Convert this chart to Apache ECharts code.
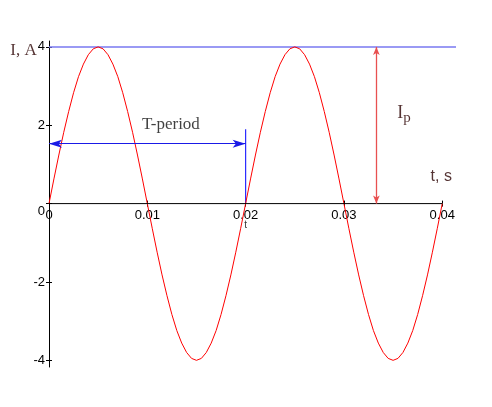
<!DOCTYPE html>
<html><head><meta charset="utf-8">
<script src="https://cdn.jsdelivr.net/npm/echarts@6/dist/echarts.min.js"></script>
<style>html,body{margin:0;padding:0;background:#fff}#c{width:492px;height:407px}</style>
</head><body><div id="c"></div>
<script>
// time samples (s)
var times = [0,0.0005,0.001,0.0015,0.002,0.0025,0.003,0.0035,0.004,0.0045,
0.005,0.0055,0.006,0.0065,0.007,0.0075,0.008,0.0085,0.009,0.0095,
0.01,0.0105,0.011,0.0115,0.012,0.0125,0.013,0.0135,0.014,0.0145,
0.015,0.0155,0.016,0.0165,0.017,0.0175,0.018,0.0185,0.019,0.0195,
0.02,0.0205,0.021,0.0215,0.022,0.0225,0.023,0.0235,0.024,0.0245,
0.025,0.0255,0.026,0.0265,0.027,0.0275,0.028,0.0285,0.029,0.0295,
0.03,0.0305,0.031,0.0315,0.032,0.0325,0.033,0.0335,0.034,0.0345,
0.035,0.0355,0.036,0.0365,0.037,0.0375,0.038,0.0385,0.039,0.0395,0.04];
// current (A)
var current = [0,0.63,1.24,1.82,2.35,2.83,3.24,3.56,3.80,3.95,
4.00,3.95,3.80,3.56,3.24,2.83,2.35,1.82,1.24,0.63,
0,-0.63,-1.24,-1.82,-2.35,-2.83,-3.24,-3.56,-3.80,-3.95,
-4.00,-3.95,-3.80,-3.56,-3.24,-2.83,-2.35,-1.82,-1.24,-0.63,
0,0.63,1.24,1.82,2.35,2.83,3.24,3.56,3.80,3.95,
4.00,3.95,3.80,3.56,3.24,2.83,2.35,1.82,1.24,0.63,
0,-0.63,-1.24,-1.82,-2.35,-2.83,-3.24,-3.56,-3.80,-3.95,
-4.00,-3.95,-3.80,-3.56,-3.24,-2.83,-2.35,-1.82,-1.24,-0.63,0];
var yTicks = [-4,-2,0,2,4];
var xTicks = [0,0.01,0.02,0.03,0.04];
// annotation values
var peakLevel = 4;          // Ip horizontal line
var peakLineEnd = 0.0414;
var periodY = 1.53;         // T-period arrow height
var periodStart = 0, periodEnd = 0.02;
var markerTop = 1.9;        // vertical marker at t = 0.02
var ipX = 0.0333;
var xAxisEnd = 0.04;

var pts = times.map(function(t,i){return [t,current[i]];});
var chart = echarts.init(document.getElementById('c'));
var sans = 'Liberation Sans, Arial, sans-serif';
var serif = 'Liberation Serif, Times New Roman, serif';
var yBase = {type:'value', min:-4.17, max:4.15, position:'left', splitLine:{show:false}};
var xBase = {type:'value', min:0, max:peakLineEnd, position:'bottom', splitLine:{show:false}, offset:0};
var option = {
  animation:false,
  grid:{left:49, right:36, top:41, bottom:40},
  xAxis:[
    Object.assign({}, xBase, {
      axisLine:{show:false, onZero:false},
      axisTick:{inside:false, length:3, lineStyle:{color:'#000'}, customValues:xTicks},
      axisLabel:{margin:5, color:'#000', fontFamily:sans, fontSize:13, customValues:xTicks,
        formatter:function(v){return String(v);}}
    }),
    Object.assign({}, xBase, {
      axisLine:{show:false, onZero:false},
      axisTick:{inside:true, length:3, lineStyle:{color:'#000'}, customValues:xTicks},
      axisLabel:{show:false}
    })
  ],
  yAxis:[
    Object.assign({}, yBase, {
      axisLine:{show:true, onZero:false, lineStyle:{color:'#000', width:1}},
      axisTick:{show:true, inside:false, length:3, lineStyle:{color:'#000'}, customValues:yTicks},
      axisLabel:{margin:4, color:'#000', fontFamily:sans, fontSize:13, customValues:yTicks,
        formatter:function(v){return v===0 ? '{z|0}' : String(v);},
        rich:{z:{fontFamily:sans, fontSize:13, color:'#000', padding:[16,0,0,0]}}}
    }),
    Object.assign({}, yBase, {
      axisLine:{show:false, onZero:false},
      axisTick:{show:true, inside:true, length:3, lineStyle:{color:'#000'}, customValues:yTicks},
      axisLabel:{show:false}
    })
  ],
  series:[
    {type:'line', data:pts, showSymbol:false, symbol:'none', smooth:false,
     lineStyle:{color:'#ff0000', width:1}, z:3},
    {type:'line', data:[[0,0],[xAxisEnd,0]], showSymbol:false, symbol:'none',
     lineStyle:{color:'#000', width:1}, z:4},
    {type:'line', data:[[0,peakLevel],[peakLineEnd,peakLevel]], showSymbol:false, symbol:'none', clip:false,
     lineStyle:{color:'#7878f0', width:1.5}, z:2},
    {type:'line', data:[[periodEnd,0],[periodEnd,markerTop]], showSymbol:false, symbol:'none',
     lineStyle:{color:'#2a2aff', width:1.2}, z:2},
    {type:'line', data:[], symbol:'none',
     markLine:{silent:true, animation:false, label:{show:false},
       data:[
         [{coord:[periodStart,periodY], symbol:'arrow', symbolSize:[6,13], lineStyle:{color:'#1a1ae6', width:1.2, type:'solid'}},
          {coord:[periodEnd,periodY], symbol:'arrow', symbolSize:[6,13]}],
         [{coord:[ipX,peakLevel], symbol:'arrow', symbolSize:[5,8], lineStyle:{color:'#e85050', width:1.3, type:'solid'}},
          {coord:[ipX,0], symbol:'arrow', symbolSize:[5,8]}]
       ]}},
    {type:'scatter', symbolSize:0, clip:false, silent:true,
     data:[
       {value:[0.0124,2.02], label:{show:true, position:'inside', formatter:'T-period', fontFamily:serif, fontSize:17, color:'#111'}},
       {value:[-0.0026,3.9], label:{show:true, position:'inside', formatter:'I, A', fontFamily:serif, fontSize:17, color:'#2a0000'}},
       {value:[0.0361,2.3], label:{show:true, position:'inside', formatter:'{a|I}{b|p}',
          rich:{a:{fontFamily:serif, fontSize:18, color:'#2a0000'}, b:{fontFamily:serif, fontSize:15, color:'#2a0000', padding:[10,0,0,0]}}}},
       {value:[0.0399,0.68], label:{show:true, position:'inside', formatter:'t, s', fontFamily:sans, fontSize:16, color:'#2a0000'}},
       {value:[0.0200,-0.55], label:{show:true, position:'inside', formatter:'t', fontFamily:sans, fontSize:10, color:'#000'}}
     ]}
  ]
};
chart.setOption(option);
// move the x axes (ticks + labels) up to the I = 0 level
var zeroPx = chart.convertToPixel({yAxisIndex:0}, 0);
var minPx = chart.convertToPixel({yAxisIndex:0}, yBase.min);
var off = -(minPx - zeroPx);
chart.setOption({xAxis:[{offset:off},{offset:off}]});
</script></body></html>
